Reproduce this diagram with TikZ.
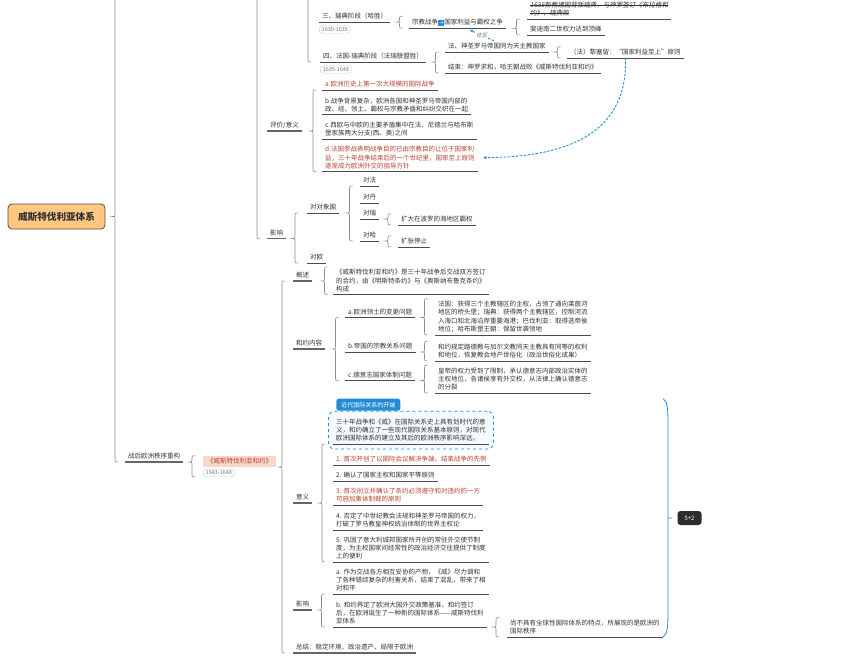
\documentclass[tikz,border=0pt]{standalone}
\usepackage{fontspec}
\setmainfont{Noto Sans CJK SC}
\newfontfamily\slfont{Noto Sans CJK SC}[FakeSlant=0.18]
\newfontfamily\symfont{DejaVu Sans}
\usepackage{xcolor}
\usetikzlibrary{arrows.meta,calc,fit,backgrounds}
\definecolor{txtcol}{RGB}{51,51,51}
\definecolor{redcol}{RGB}{184,68,46}
\definecolor{relblue}{RGB}{35,140,215}
\definecolor{bndfill}{RGB}{244,250,255}
\definecolor{rootfill}{RGB}{255,199,128}
\definecolor{rootedge}{RGB}{95,75,55}
\definecolor{pinkfill}{RGB}{250,214,206}
\definecolor{sumdark}{RGB}{45,45,45}
\newcommand{\mmfont}{\fontsize{6.5}{8.2}\selectfont}
\newcommand{\goicon}{\raisebox{-0.6pt}{\setlength{\fboxsep}{0.8pt}\colorbox{relblue}{\makebox[4.6pt]{\rule{0pt}{4.6pt}\textcolor{white}{\symfont\fontsize{5}{5}\selectfont\raisebox{0.5pt}{→}}}}}}
\newsavebox{\strikebox}
\newcommand{\strike}[1]{\sbox{\strikebox}{#1}\rlap{\usebox{\strikebox}}\rule[2.2pt]{\wd\strikebox}{0.45pt}}
% curly bracket: x, parent, top end, bottom end
\newcommand{\brc}[4]{%
  \draw[brc] let \p1=(#2.south),\p2=(#3),\p3=(#4),\p4=(#1,0) in
    ({\x4+3pt},\y2) .. controls (\x4,\y2) .. (\x4,{\y2-2.5pt})
    -- (\x4,{\y1+2.5pt}) .. controls (\x4,\y1) .. ({\x4-3pt},\y1)
    .. controls (\x4,\y1) .. (\x4,{\y1-2.5pt})
    -- (\x4,{\y3+2.5pt}) .. controls (\x4,\y3) .. ({\x4+3pt},\y3);}
\tikzset{
  topic/.style={anchor=south west,inner xsep=3pt,inner ysep=2.4pt,align=left,
                font=\mmfont,text=txtcol},
  hot/.style={topic,text=redcol},
  datetag/.style={anchor=north west,draw=black!20,fill=white,rounded corners=3pt,
                  inner xsep=2.5pt,inner ysep=1pt,minimum height=7.5pt,
                  font=\fontsize{5.5}{6}\selectfont,text=black!55},
  rootbox/.style={draw=rootedge,fill=rootfill,line width=.8pt,rounded corners=4pt,
                  minimum width=97pt,minimum height=25pt,
                  font=\fontsize{9.6}{11}\selectfont\bfseries,text=txtcol},
  treaty/.style={anchor=south west,fill=pinkfill,inner xsep=4pt,inner ysep=2.4pt,
                 font=\mmfont,text=redcol},
  bnd/.style={draw=relblue,dashed,fill=bndfill,rounded corners=6pt,line width=.8pt,
              inner xsep=4.5pt,inner ysep=5pt},
  bndtitle/.style={anchor=south west,fill=relblue,text=white,rounded corners=2.5pt,
                   inner xsep=5pt,inner ysep=0pt,minimum height=12pt,
                   font=\fontsize{6}{7}\selectfont},
  sumbox/.style={fill=sumdark,text=white,rounded corners=3pt,minimum width=24pt,
                 minimum height=14pt,inner sep=0pt,font=\fontsize{6}{7}\selectfont},
  brc/.style={draw=black!45,line width=.6pt},
  sumbrc/.style={draw=relblue,line width=.8pt},
  uline/.style={draw=black!70,line width=.75pt},
  ulthick/.style={draw=black!60,line width=1.4pt},
  rel/.style={draw=relblue,dash pattern=on 2.5pt off 1.5pt,line width=.9pt,
              -{Latex[length=3.5pt,width=3.2pt]}},
  rellbl/.style={fill=white,inner sep=.8pt,font=\fontsize{5.5}{6}\selectfont\slfont,
                 text=black!50},
}
\begin{document}
\begin{tikzpicture}[x=1pt,y=-1pt,font=\mmfont]
  \useasboundingbox (0,0) rectangle (846,662);
  \node[rootbox] (root) at (56.5,216.5) {威斯特伐利亚体系};
  % stages of the war
  \node[topic] (s3) at (319,22) {三、瑞典阶段（哈胜）};
  \node[datetag] (s3date) at (319,25.5) {1630-1635};
  \node[topic] (zjzz) at (409,28.3) {宗教战争\goicon 国家利益与霸权之争};
  \node[topic,font={\mmfont\slfont}] (x1635) at (527,19)
    {\strike{1635新教诸国背叛瑞典，与神罗签订《布拉格和}\\\strike{约》，瑞典败}};
  \node[topic] (fdn) at (527,35) {斐迪南二世权力达到顶峰};
  \node[topic] (s4) at (320,62) {四、法国-瑞典阶段（法瑞联盟胜）};
  \node[datetag] (s4date) at (320,65.5) {1635-1648};
  \node[topic] (fsl) at (445,52) {法、神圣罗马帝国同为天主教国家};
  \node[topic] (jsh) at (445,73) {结束：神罗求和，哈王朝战败《威斯特伐利亚和约》};
  \node[topic] (lsl) at (567,58) {（法）黎塞留：“国家利益至上”原则};
  % evaluation
  \node[topic] (pj) at (267,131) {评价/意义};
  \node[hot] (pja) at (322,90) {a.欧洲历史上第一次大规模的国际战争};
  \node[topic] (pjb) at (322,114.5)
    {b.战争背景复杂，欧洲各国和神圣罗马帝国内部的\\政、经、领土、霸权与宗教矛盾和纠纷交织在一起};
  \node[topic] (pjc) at (322,139.5)
    {c.西欧与中欧的主要矛盾集中在法、尼德兰与哈布斯\\堡家族两大分支(西、奥)之间};
  \node[hot] (pjd) at (322,171.5)
    {d.法国参战表明战争目的已由宗教目的让位于国家利\\益，三十年战争结束后的一个世纪里，国家至上原则\\逐渐成为欧洲外交的指导方针};
  % influence
  \node[topic] (yx) at (267,238.5) {影响};
  \node[topic] (ddx) at (307,213) {对对象国};
  \node[topic] (doe) at (307,263) {对欧};
  \node[topic] (dfa) at (360,186) {对法};
  \node[topic] (ddan) at (360,203) {对丹};
  \node[topic] (drui) at (360,219) {对瑞};
  \node[topic] (dha) at (360,241) {对哈};
  \node[topic] (kd) at (398,225) {扩大在波罗的海地区霸权};
  \node[topic] (kz) at (398,247) {扩张停止};
  % post-war order
  \node[topic] (zh) at (125,462) {战后欧洲秩序重构};
  \node[treaty] (hy) at (203,467) {《威斯特伐利亚和约》};
  \node[datetag] (hydate) at (203,469) {1643-1648};
  \node[topic] (gs) at (293,281) {概述};
  \node[topic] (gst) at (333,294.5)
    {《威斯特伐利亚和约》是三十年战争后交战双方签订\\的合约，由《明斯特条约》与《奥斯纳布鲁克条约》\\构成};
  \node[topic] (hynr) at (293,349) {和约内容};
  \node[topic] (hya) at (345,317.5) {a.欧洲领土的变更问题};
  \node[topic] (hyat) at (435,335)
    {法国：获得三个主教辖区的主权，占领了通向莱茵河\\地区的桥头堡；瑞典：获得两个主教辖区，控制河流\\入海口和北海沿岸重要海港；巴伐利亚：取得选帝侯\\地位；哈布斯堡王朝：保留世袭领地};
  \node[topic] (hyb) at (345,352) {b.帝国的宗教关系问题};
  \node[topic] (hybt) at (435,361)
    {和约规定路德教与加尔文教同天主教具有同等的权利\\和地位，恢复教会地产世俗化（政治世俗化成果）};
  \node[topic] (hyc) at (345,380.5) {c.德意志国家体制问题};
  \node[topic] (hyct) at (435,393)
    {皇帝的权力受到了限制，承认德意志内部政治实体的\\主权地位，各诸侯享有外交权，从法律上确认德意志\\的分裂};
  \node[topic] (yy) at (293,503) {意义};
  \node[topic] (yy0) at (333,444)
    {三十年战争和《威》在国际关系史上具有划时代的意\\义，和约确立了一些现代国际关系基本原则，对现代\\欧洲国际体系的建立及其后的欧洲秩序影响深远。};
  \node[hot] (yy1) at (333,465) {1. 首次开创了以国际会议解决争端、结束战争的先例};
  \node[topic] (yy2) at (333,481) {2. 确认了国家主权和国家平等原则};
  \node[hot] (yy3) at (333,505)
    {3. 首次创立并确认了条约必须遵守和对违约的一方\\可施加集体制裁的原则};
  \node[topic] (yy4) at (333,530)
    {4. 否定了中世纪教会法规和神圣罗马帝国的权力，\\打破了罗马教皇神权统治体制的世界主权论};
  \node[topic] (yy5) at (333,562)
    {5. 巩固了意大利城邦国家所开创的常驻外交使节制\\度，为主权国家间经常性的政治经济交往提供了制度\\上的便利};
  \node[topic] (yx2) at (293,610) {影响};
  \node[topic] (yxa) at (333,594)
    {a. 作为交战各方相互妥协的产物，《威》尽力调和\\了各种错综复杂的利害关系，结束了混乱，带来了相\\对和平};
  \node[topic] (yxb) at (333,627)
    {b. 和约界定了欧洲大国外交政策基准，和约签订\\后，在欧洲诞生了一种新的国际体系——威斯特伐利\\亚体系};
  \node[topic] (yxbt) at (507,637)
    {尚不具有全球性国际体系的特点，所展现的是欧洲的\\国际秩序};
  \node[topic] (zongjie) at (293,653) {总结：稳定环境、政治遗产、局限于欧洲};
  % page and boundary round the first meaning
  \begin{pgfonlayer}{background}
    \fill[white] (0,0) rectangle (846,662);
    \node[bnd,fit=(yy0)] (bd) {};
  \end{pgfonlayer}
  \node[bndtitle] (tab) at ([xshift=8pt]bd.north west) {近代国际关系的开端};
  \node[sumbox] (sum) at (689.5,518) {5+2};
  % underlines
  \foreach \n in {s3,s4,zjzz,x1635,fdn,fsl,jsh,lsl,pja,pjb,pjc,pjd,ddx,doe,dfa,ddan,
                  drui,dha,kd,kz,gst,hya,hyat,hyb,hybt,hyc,hyct,yy0,yy1,yy2,yy3,yy4,
                  yy5,yxa,yxb,yxbt}
    {\draw[uline] (\n.south west) -- (\n.south east);}
  \foreach \n in {pj,yx,zh,gs,hynr,yy,yx2,zongjie}
    {\draw[ulthick] (\n.south west) -- (\n.south east);}
  % brackets
  \foreach \bx/\bpa/\btop/\bbot in {399.5/s3/zjzz.north/zjzz.south,
      516.5/zjzz/x1635.south/fdn.south, 435.5/s4/fsl.south/jsh.south,
      557.5/fsl/lsl.north/lsl.south, 313/pj/pja.south/pjd.south,
      295/yx/ddx.south/doe.south, 349.5/ddx/dfa.south/dha.south,
      388/drui/kd.north/kd.south, 388/dha/kz.north/kz.south,
      192/zh/hy.north/hydate.south, 282/hy/gs.south/zongjie.south,
      324.5/gs/gst.north/gst.south, 335.5/hynr/hya.south/hyc.south,
      424.5/hya/hyat.north/hyat.south, 424.5/hyb/hybt.north/hybt.south,
      424.5/hyc/hyct.north/hyct.south, 322/yy/yy0.south/yy5.south,
      321.5/yx2/yxa.south/yxb.south, 496/yxb/yxbt.north/yxbt.south}
    {\brc{\bx}{\bpa}{\btop}{\bbot}}
  \draw[brc] let \p1=(root.east),\p2=(zh.south),\p4=(115,0) in
    (115,-5) -- (\x4,{\y1+2.5pt}) .. controls (\x4,\y1) .. ({\x4-3pt},\y1)
    .. controls (\x4,\y1) .. (\x4,{\y1-2.5pt})
    -- (\x4,{\y2+2.5pt}) .. controls (\x4,\y2) .. ({\x4+3pt},\y2);
  \draw[brc] let \p1=(yx.south),\p4=(257,0) in
    (257,-5) -- (\x4,{\y1+2.5pt}) .. controls (\x4,\y1) .. ({\x4+3pt},\y1);
  \draw[brc] let \p1=(s4.south),\p4=(308,0) in
    (308,-5) -- (\x4,{\y1+2.5pt}) .. controls (\x4,\y1) .. ({\x4+3pt},\y1);
  % summary of meaning and influence
  \draw[sumbrc] let \p1=(tab.north),\p2=(yxbt.south),\p3=(sum.west) in
    (663pt,\y1) .. controls (668pt,{\y1-3pt}) and (668pt,{\y1-12pt}) .. (668pt,{\y1-30pt})
    -- (668pt,{\y2+30pt}) .. controls (668pt,{\y2+12pt}) and (668pt,{\y2+3pt}) .. (663pt,\y2)
    (668pt,\y3) -- (672pt,\y3);
  % relations
  \draw[rel] ([xshift=-3pt]fsl.north) -- node[rellbl] {体现} ([xshift=12pt,yshift=-1.5pt]zjzz.south);
  \draw[rel] (lsl.south) .. controls (628,135) and (565,157) .. ([xshift=5pt]pjd.east);
\end{tikzpicture}
\end{document}
